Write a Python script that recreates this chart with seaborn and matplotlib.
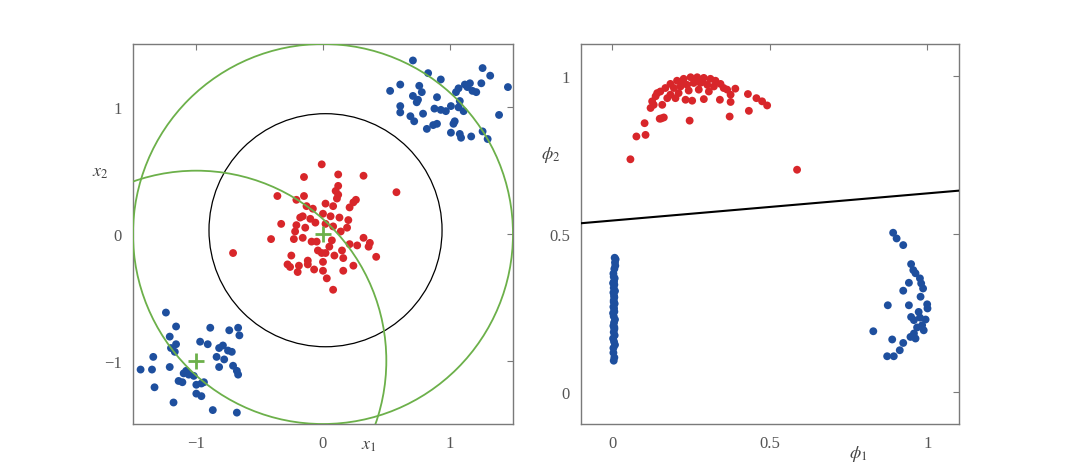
import numpy as np
import pandas as pd
import matplotlib
matplotlib.use("Agg")
import matplotlib.pyplot as plt
import seaborn as sns
from matplotlib.patches import Circle

# --- left panel: input space (x1, x2) ---
red_x1 = [-0.01, -0.15, 0.12, 0.32, 0.58, -0.36, -0.21, -0.15, 0.12, 0.12, 0.11, 0.02, 0.08,
          -0.13, -0.08, 0.24, 0.21, 0.26, -0.16, 0.06, 0.13, 0.20, -0.33, -0.21, -0.14, -0.06,
          0.02, 0.08, 0.19, -0.22, -0.16, -0.23, -0.09, -0.05, 0.07, -0.41, 0.21, 0.27, 0.32,
          0.37, 0.36, -0.71, 0.42, -0.25, -0.12, -0.01, 0.02, 0.09, 0.15, 0.16, -0.28, -0.26,
          -0.12, -0.07, 0.00, 0.00, -0.20, 0.16, 0.24, 0.03, 0.08, 0.00, -0.18, -0.04, -0.19,
          0.10, -0.10, 0.05, 0.14]
red_x2 = [0.55, 0.45, 0.47, 0.46, 0.33, 0.30, 0.27, 0.30, 0.38, 0.31, 0.28, 0.24, 0.22,
          0.22, 0.20, 0.25, 0.21, 0.27, 0.14, 0.14, 0.13, 0.11, 0.08, 0.07, 0.05, 0.09,
          0.08, 0.06, 0.05, 0.02, -0.03, -0.04, -0.06, -0.06, -0.05, -0.04, -0.08, -0.09, -0.03,
          -0.07, -0.10, -0.15, -0.18, -0.17, -0.21, -0.15, -0.15, -0.17, -0.13, -0.19, -0.24, -0.26,
          -0.24, -0.28, -0.22, -0.29, -0.30, -0.29, -0.25, -0.35, -0.44, 0.16, 0.13, -0.13, -0.25,
          0.34, 0.12, -0.10, 0.02]

blue_ur_x1 = [0.71, 0.83, 0.93, 1.26, 1.32, 1.46, 0.53, 0.61, 0.76, 0.71, 0.78, 0.75, 0.74,
              0.61, 0.61, 0.69, 0.72, 0.79, 0.90, 0.88, 0.93, 0.97, 1.01, 1.05, 1.07, 1.12,
              1.16, 1.14, 1.18, 1.21, 1.25, 1.08, 1.07, 1.11, 1.04, 1.03, 0.90, 0.87, 0.82,
              1.01, 1.08, 1.09, 1.17, 1.26, 1.30, 1.39]
blue_ur_x2 = [1.37, 1.27, 1.22, 1.31, 1.25, 1.16, 1.13, 1.18, 1.17, 1.09, 1.12, 1.06, 1.04,
              1.01, 0.96, 0.93, 0.89, 0.95, 1.08, 0.99, 0.98, 0.97, 1.01, 1.12, 1.15, 1.18,
              1.19, 1.16, 1.13, 1.12, 1.19, 1.05, 1.00, 0.97, 0.89, 0.87, 0.87, 0.86, 0.83,
              0.80, 0.79, 0.76, 0.77, 0.81, 0.75, 0.94]

blue_ll_x1 = [-1.24, -1.16, -1.21, -1.16, -1.20, -1.17, -0.89, -0.74, -0.67, -0.66, -0.97,
              -0.91, -0.82, -0.79, -0.75, -0.72, -0.84, -0.78, -0.82, -0.71, -0.68, -0.67,
              -1.34, -1.44, -1.35, -1.21, -1.08, -1.06, -1.02, -1.10, -1.14, -1.11, -1.00,
              -0.96, -0.94, -1.33, -1.00, -0.96, -1.18, -0.87, -0.68]
blue_ll_x2 = [-0.62, -0.73, -0.81, -0.87, -0.90, -0.93, -0.74, -0.76, -0.74, -0.80, -0.85,
              -0.87, -0.90, -0.88, -0.92, -0.93, -0.97, -0.99, -1.05, -1.04, -1.08, -1.11,
              -0.97, -1.07, -1.07, -1.05, -1.08, -1.11, -1.12, -1.10, -1.16, -1.17, -1.19,
              -1.18, -1.17, -1.21, -1.26, -1.28, -1.33, -1.39, -1.41]

centre_x1 = [0.0, -1.0]
centre_x2 = [0.0, -1.0]

# --- right panel: feature space (phi1, phi2) ---
red_phi1 = [0.057, 0.586, 0.076, 0.105, 0.102, 0.150, 0.163, 0.245, 0.372, 0.433, 0.121, 0.126,
            0.137, 0.158, 0.200, 0.232, 0.253, 0.290, 0.341, 0.375, 0.375, 0.430, 0.457, 0.475,
            0.491, 0.390, 0.364, 0.168, 0.184, 0.205, 0.226, 0.248, 0.269, 0.290, 0.311, 0.327,
            0.343, 0.142, 0.152, 0.195, 0.216, 0.237, 0.258, 0.279, 0.301, 0.322, 0.210, 0.242,
            0.274, 0.306, 0.353, 0.184, 0.174, 0.131, 0.155, 0.262, 0.285, 0.222]
red_phi2 = [0.736, 0.703, 0.808, 0.813, 0.850, 0.864, 0.868, 0.858, 0.871, 0.889, 0.898, 0.919,
            0.935, 0.908, 0.929, 0.924, 0.921, 0.926, 0.924, 0.917, 0.940, 0.942, 0.929, 0.919,
            0.906, 0.959, 0.956, 0.961, 0.974, 0.984, 0.990, 0.995, 0.995, 0.993, 0.990, 0.984,
            0.974, 0.945, 0.950, 0.961, 0.966, 0.971, 0.977, 0.977, 0.971, 0.966, 0.945, 0.953,
            0.956, 0.950, 0.961, 0.940, 0.929, 0.908, 0.865, 0.985, 0.980, 0.982]

blue_a_phi1 = [0.891, 0.902, 0.923, 0.948, 0.955, 0.962, 0.976, 0.980, 0.986, 0.941, 0.923,
               0.978, 0.999, 1.000, 0.874, 0.941, 0.948, 0.976, 0.994, 0.983, 0.967, 0.988,
               0.957, 0.946, 0.962, 0.828, 0.888, 0.923, 0.912, 0.893, 0.872, 0.972, 0.957]
blue_a_phi2 = [0.504, 0.486, 0.465, 0.405, 0.386, 0.376, 0.360, 0.344, 0.328, 0.346, 0.321,
               0.302, 0.278, 0.265, 0.275, 0.275, 0.238, 0.236, 0.230, 0.212, 0.205, 0.196,
               0.186, 0.175, 0.170, 0.193, 0.167, 0.156, 0.133, 0.114, 0.114, 0.254, 0.228]

blue_b_phi1 = [0.004, 0.006, 0.003, 0.008, 0.005, 0.002, 0.007, 0.004, 0.006, 0.003, 0.005,
               0.008, 0.004, 0.002, 0.006, 0.005, 0.003, 0.007, 0.004, 0.006, 0.005, 0.003,
               0.008, 0.004, 0.006, 0.002, 0.005, 0.007, 0.004, 0.003, 0.006, 0.009, 0.008,
               0.010, 0.007, 0.003, 0.006, 0.004]
blue_b_phi2 = [0.100, 0.110, 0.140, 0.150, 0.160, 0.170, 0.180, 0.190, 0.200, 0.210, 0.220,
               0.230, 0.240, 0.250, 0.255, 0.265, 0.270, 0.280, 0.290, 0.300, 0.305, 0.315,
               0.320, 0.330, 0.340, 0.345, 0.350, 0.360, 0.365, 0.375, 0.390, 0.400, 0.410,
               0.420, 0.425, 0.125, 0.205, 0.285]

# separating line in feature space
line_phi1 = [-0.1, 1.1]
line_phi2 = [0.534, 0.637]

RED = "#d8262a"
BLUE = "#1e4f9e"
GREEN = "#6cb04a"
GREY = "#7a7a7a"

sns.set_style("white")
plt.rcParams["font.family"] = ["Liberation Serif", "DejaVu Serif"]
plt.rcParams["mathtext.fontset"] = "stix"

left = pd.concat([
    pd.DataFrame({"x1": red_x1, "x2": red_x2, "cls": "red"}),
    pd.DataFrame({"x1": blue_ur_x1, "x2": blue_ur_x2, "cls": "blue"}),
    pd.DataFrame({"x1": blue_ll_x1, "x2": blue_ll_x2, "cls": "blue"}),
])
right = pd.concat([
    pd.DataFrame({"phi1": red_phi1, "phi2": red_phi2, "cls": "red"}),
    pd.DataFrame({"phi1": blue_a_phi1, "phi2": blue_a_phi2, "cls": "blue"}),
    pd.DataFrame({"phi1": blue_b_phi1, "phi2": blue_b_phi2, "cls": "blue"}),
])
palette = {"red": RED, "blue": BLUE}

fig = plt.figure(figsize=(10.91, 4.64), dpi=100)
ax1 = fig.add_axes([0.1219, 0.084, 0.3483, 0.819])
ax2 = fig.add_axes([0.5325, 0.084, 0.3465, 0.819])

sns.scatterplot(data=left, x="x1", y="x2", hue="cls", palette=palette, s=32,
                linewidth=0, legend=False, ax=ax1, zorder=3)
ax1.add_patch(Circle((0.02, 0.03), 0.92, fill=False, ec="black", lw=0.9, zorder=2))
ax1.add_patch(Circle((0, 0), 1.5, fill=False, ec=GREEN, lw=1.3, zorder=4))
ax1.add_patch(Circle((-1, -1), 1.5, fill=False, ec=GREEN, lw=1.3, zorder=4))
ax1.plot(centre_x1, centre_x2, "+", color=GREEN, ms=12, mew=2, zorder=5)
ax1.set_xlim(-1.5, 1.5)
ax1.set_ylim(-1.5, 1.5)
ax1.set_xticks([-1, 0, 1])
ax1.set_yticks([-1, 0, 1])

sns.scatterplot(data=right, x="phi1", y="phi2", hue="cls", palette=palette, s=32,
                linewidth=0, legend=False, ax=ax2, zorder=3)
sns.lineplot(x=line_phi1, y=line_phi2, color="black", lw=1.5, ax=ax2, zorder=4)
ax2.set_xlim(-0.1, 1.1)
ax2.set_ylim(-0.1, 1.1)
ax2.set_xticks([0, 0.5, 1])
ax2.set_yticks([0, 0.5, 1])
ax2.set_xticklabels(["0", "0.5", "1"])
ax2.set_yticklabels(["0", "0.5", "1"])

for ax in (ax1, ax2):
    ax.set_xlabel("")
    ax.set_ylabel("")
    for sp in ax.spines.values():
        sp.set_color(GREY)
        sp.set_linewidth(1.0)
    ax.tick_params(direction="in", length=4, width=0.8, color=GREY, labelcolor="#555555",
                   labelsize=12, top=True, right=True, pad=8)
ax1.set_xticklabels(["\u22121", "0", "1"])
ax1.set_yticklabels(["\u22121", "0", "1"])

ax1.text(0.62, -0.055, "$x_1$", transform=ax1.transAxes, fontsize=13, color="#444444",
         ha="center", va="center")
ax1.text(-0.085, 0.665, "$x_2$", transform=ax1.transAxes, fontsize=13, color="#444444",
         ha="center", va="center")
ax2.text(0.733, -0.075, "$\\phi_1$", transform=ax2.transAxes, fontsize=13, color="#444444",
         ha="center", va="center")
ax2.text(-0.08, 0.71, "$\\phi_2$", transform=ax2.transAxes, fontsize=13, color="#444444",
         ha="center", va="center")

fig.savefig("out.png", dpi=100)
